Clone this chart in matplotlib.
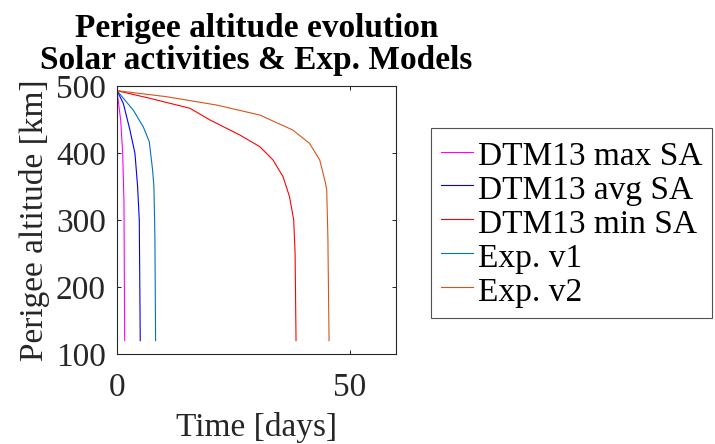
import matplotlib
matplotlib.use("Agg")
import matplotlib.pyplot as plt

plt.rcParams['font.family'] = ['Liberation Serif', 'DejaVu Serif']
plt.rcParams['mathtext.fontset'] = 'stix'

# Values (time in days, perigee altitude in km)
max_sa_t = [0, 0.79, 1.22, 1.5, 1.65]
max_sa_h = [493, 449, 400, 326, 120]

avg_sa_t = [0, 1.36, 2.79, 3.86, 4.43, 4.79, 5.0]
avg_sa_h = [493, 474, 434, 399.5, 350, 300, 120]

min_sa_t = [0, 7.1, 15.7, 20.0, 26.4, 30.7, 33.55, 35.7, 37.1, 38.0, 38.3, 38.5]
min_sa_h = [493, 481.6, 466.7, 449.3, 426.9, 409.5, 389.6, 364.7, 334.8, 300, 250, 120]

exp1_t = [0, 3.5, 5.65, 6.94, 7.65, 7.94, 8.15, 8.3]
exp1_h = [493, 464, 439, 417, 375, 350, 275, 120]

exp2_t = [0, 10.7, 21.4, 30.7, 37.8, 41.4, 43.6, 44.85, 45.1, 45.35, 45.6]
exp2_h = [493, 484, 471.6, 456.7, 434.3, 414.4, 389.6, 354.7, 344.8, 275, 120]

labels = ['DTM13 max SA', 'DTM13 avg SA', 'DTM13 min SA', 'Exp. v1', 'Exp. v2']
colors = ['#FF00FF', '#0000FF', '#FF0000', '#0072BD', '#D95319']

fig = plt.figure(figsize=(7.15, 4.44), dpi=100)
ax = fig.add_axes([117/715, 90/444, 279/715, 268/444])

series = [(max_sa_t, max_sa_h), (avg_sa_t, avg_sa_h), (min_sa_t, min_sa_h),
          (exp1_t, exp1_h), (exp2_t, exp2_h)]
for (t, h), lab, c in zip(series, labels, colors):
    ax.plot(t, h, color=c, linewidth=0.8, label=lab)

ax.set_xlim(0, 60)
ax.set_ylim(100, 500)
ax.set_xticks([0, 50])
ax.set_yticks([100, 200, 300, 400, 500])
ax.tick_params(direction='in', top=True, right=True, length=3, width=0.6,
               labelsize=24, labelcolor='#262626')
ax.tick_params(axis='x', pad=13)
ax.tick_params(axis='y', pad=8)
for s in ax.spines.values():
    s.set_linewidth(0.8)
    s.set_color('#262626')

ax.set_xlabel('Time [days]', fontsize=24, color='#262626', labelpad=7)
ax.set_ylabel('Perigee altitude [km]', fontsize=24, color='#262626', labelpad=4)
ax.set_title('Perigee altitude evolution\nSolar activities & Exp. Models',
             fontsize=24, fontweight='bold', pad=12, linespacing=1.05)

leg = fig.legend(loc='center left', bbox_to_anchor=(431/715, 0.498),
                 fontsize=24, frameon=True, fancybox=False, handlelength=0.95,
                 handleheight=1.06, handletextpad=0.15, labelspacing=0.0,
                 borderpad=0.3, borderaxespad=0)
leg.get_frame().set_edgecolor('#262626')
leg.get_frame().set_linewidth(0.8)

fig.savefig('out.png', dpi=100)
